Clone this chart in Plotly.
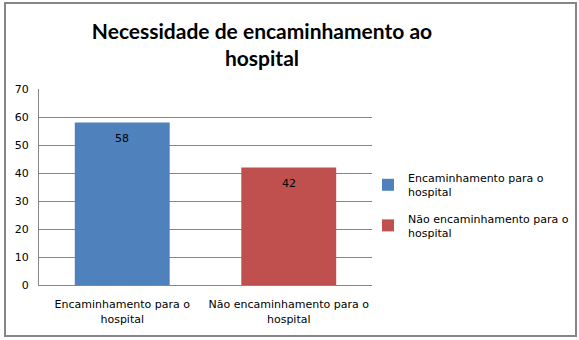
import plotly.graph_objects as go

categories = ["Encaminhamento para o<br>hospital", "Não encaminhamento para o<br>hospital"]
series_names = ["Encaminhamento para o<br>hospital", "Não encaminhamento para o<br>hospital"]
values = [58, 42]
colors = ["#4F81BD", "#C0504D"]
y_ticks = [0, 10, 20, 30, 40, 50, 60, 70]

W, H = 579, 340
L, R, T, B = 39, 372, 89, 285
pw, ph = R - L, B - T

fig = go.Figure()
for i, (cat, name, v, c) in enumerate(zip(categories, series_names, values, colors)):
    fig.add_trace(go.Bar(
        x=[cat], y=[v], name=name, marker=dict(color=c, line=dict(width=0)),
        legendgroup=f"g{i}", hoverinfo="skip",
    ))
    fig.add_annotation(x=cat, y=v, xref="x", yref="y", text=str(v),
                       showarrow=False, yanchor="middle", yshift=-16,
                       font=dict(family="DejaVu Sans", size=11, color="#000000"))

def px_x(x):
    return (x - L) / pw

def px_y(y):
    return (B - y) / ph

fig.update_layout(
    width=W, height=H,
    margin=dict(l=L, r=W - R, t=T, b=H - B, pad=0, autoexpand=False),
    paper_bgcolor="white", plot_bgcolor="white",
    barmode="overlay", bargap=0.43,
    title=dict(text="<b>Necessidade de encaminhamento ao<br>hospital</b>",
               x=262 / W, xref="container", xanchor="center",
               y=1 - 39 / H, yanchor="middle",
               font=dict(family="Lato", size=21, color="#000000")),
    font=dict(family="DejaVu Sans", size=11, color="#000000"),
    xaxis=dict(showgrid=False, showline=True, linecolor="#868686", linewidth=1,
               ticks="", tickfont=dict(family="DejaVu Sans", size=11),
               ticklabelstandoff=9, fixedrange=True),
    yaxis=dict(range=[0, 70], tickvals=y_ticks, showgrid=True, gridcolor="#868686",
               gridwidth=1, showline=True, linecolor="#868686", linewidth=1,
               ticks="", ticklen=0, tickfont=dict(family="DejaVu Sans", size=11),
               ticklabelstandoff=7, zeroline=False, fixedrange=True),
    legend=dict(x=px_x(368), y=px_y(164), xanchor="left", yanchor="top",
                font=dict(family="DejaVu Sans", size=11), itemwidth=30,
                traceorder="grouped", tracegroupgap=9, bgcolor="rgba(0,0,0,0)"),
    showlegend=True,
    shapes=[dict(type="rect", xref="paper", yref="paper",
                 x0=px_x(5), x1=px_x(576), y0=px_y(336), y1=px_y(3),
                 line=dict(color="#868686", width=2), fillcolor="rgba(0,0,0,0)",
                 layer="below")],
)
fig.write_html("out.html")
